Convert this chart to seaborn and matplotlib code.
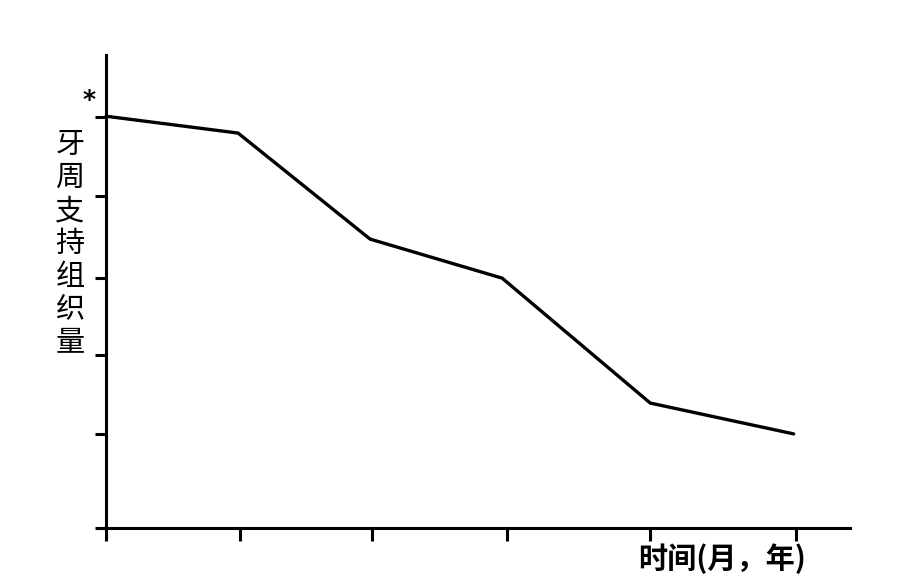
import matplotlib
matplotlib.use("Agg")
import matplotlib.pyplot as plt
import seaborn as sns
import pandas as pd

# data (x in units of one tick interval, y in relative units: bottom=0, top tick=100)
time_pos = [0.0, 0.985, 1.97, 2.955, 4.06, 5.13]
support = [100.2, 96.1, 70.3, 60.8, 30.4, 22.9]
x_ticks = [0.0, 1.0, 1.985, 2.99, 4.06, 5.15]
y_ticks = [0, 22.9, 42.1, 60.8, 80.8, 100]
ylabel_text = "牙\n周\n支\n持\n组\n织\n量"
xlabel_text = "时间(月，年)"

sns.set_style("white")
plt.rcParams['font.family'] = ['Noto Sans CJK SC', 'DejaVu Sans']

fig = plt.figure(figsize=(9.07, 5.78), dpi=100)
ax = fig.add_axes([100/907, 50/578, 750/907, (528-55)/578])

df = pd.DataFrame({"t": time_pos, "v": support})
sns.lineplot(data=df, x="t", y="v", ax=ax, color="black", linewidth=2.4)

ax.set_xlim(-0.045, 5.55)
ax.set_ylim(0, 115.1)
ax.spines['left'].set_position(('data', 0))
for s in ['top', 'right']:
    ax.spines[s].set_visible(False)
for s in ['left', 'bottom']:
    ax.spines[s].set_linewidth(2.2)
    ax.spines[s].set_color('black')

ax.set_xticks(x_ticks)
ax.set_yticks(y_ticks)
ax.set_xticklabels([])
ax.set_yticklabels([])
ax.tick_params(axis='x', direction='out', length=9, width=2.2, color='black', bottom=True)
ax.tick_params(axis='y', direction='out', length=8, width=2.2, color='black', left=True)
ax.set_xlabel("")
ax.set_ylabel("")

fig.text(70/907, 1 - 244/578, ylabel_text, ha='center', va='center',
         fontsize=21, linespacing=1.13, color='black')
fig.text(89/907, 1 - 100/578, "*", ha='center', va='center', fontsize=18,
         fontweight='bold', color='black', family=['DejaVu Sans'])
fig.text(722/907, 1 - 559/578, xlabel_text, ha='center', va='center',
         fontsize=21, fontweight='bold', color='black')

fig.savefig("out.png", dpi=100)
